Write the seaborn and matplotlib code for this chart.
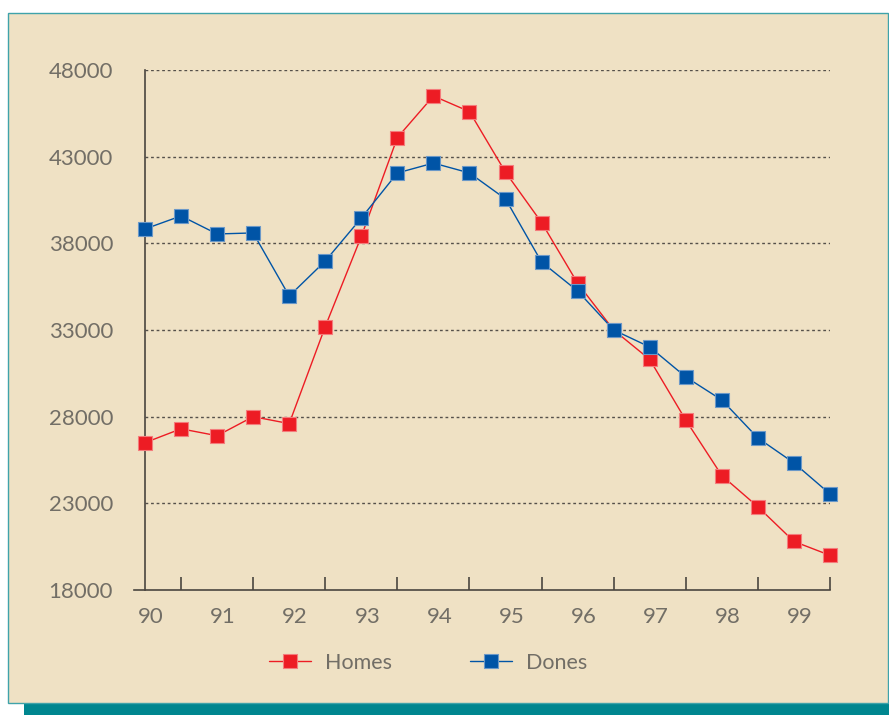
import matplotlib
matplotlib.use("Agg")
import matplotlib.pyplot as plt
from matplotlib.patches import Rectangle
from matplotlib.lines import Line2D
from matplotlib.ticker import FixedLocator
from matplotlib.transforms import ScaledTranslation
import seaborn as sns
import pandas as pd

# ---- data ----
years = [90, 90.5, 91, 91.5, 92, 92.5, 93, 93.5, 94, 94.5,
         95, 95.5, 96, 96.5, 97, 97.5, 98, 98.5, 99, 99.5]
homes = [26500, 27300, 26900, 28000, 27600, 33200, 38400, 44100, 46500, 45600,
         42100, 39200, 35700, 33000, 31300, 27800, 24600, 22800, 20800, 20000]
dones = [38830, 39580, 38540, 38600, 34960, 36980, 39460, 42060, 42630, 42060,
         40560, 36920, 35250, 33000, 32020, 30290, 28960, 26770, 25330, 23540]
series_names = ["Homes", "Dones"]
x_tick_labels = ["90", "91", "92", "93", "94", "95", "96", "97", "98", "99"]
y_ticks = [18000, 23000, 28000, 33000, 38000, 43000, 48000]

df = pd.DataFrame({
    "year": years * 2,
    "value": homes + dones,
    "series": [series_names[0]] * len(years) + [series_names[1]] * len(years),
})

RED = "#ED1C24"
BLUE = "#0054A6"
RED_EDGE = "#F47C7C"
BLUE_EDGE = "#6A98C8"
TXT = "#726E66"
AX = "#4A453F"
BG = "#EFE1C4"
TEAL = "#00868F"

sns.set_theme(style="white")
plt.rcParams["font.family"] = ["Lato", "DejaVu Sans"]

W, H = 889, 715
fig = plt.figure(figsize=(W / 100, H / 100), dpi=100)
fig.patch.set_facecolor("white")

# shadow + panel
fig.patches.append(Rectangle((24 / W, 0), 1 - 24 / W, 14 / H, transform=fig.transFigure,
                             facecolor=TEAL, edgecolor="none", zorder=0))
fig.patches.append(Rectangle((8 / W, 1 - 703 / H), (888 - 8) / W, (703 - 13) / H,
                             transform=fig.transFigure, facecolor=BG,
                             edgecolor="#3FA3AA", linewidth=1.0, zorder=1))

ax = fig.add_axes([145 / W, 1 - 590 / H, (830 - 145) / W, (590 - 70) / H])
ax.set_facecolor("none")
ax.set_zorder(2)

sns.lineplot(data=df, x="year", y="value", hue="series", style="series",
             markers={"Homes": "s", "Dones": "s"}, dashes=False,
             palette={"Homes": RED, "Dones": BLUE}, hue_order=series_names,
             markersize=10, linewidth=1.0, ax=ax, legend=False)

edge_map = {RED: RED_EDGE, BLUE: BLUE_EDGE}
for ln in ax.lines:
    c = matplotlib.colors.to_hex(ln.get_color()).upper()
    ln.set_markeredgecolor(edge_map.get(c, c))
    ln.set_markeredgewidth(0.8)
    ln.set_clip_on(False)
    ln.set_zorder(5)

ax.set_xlim(90, 99.5)
ax.set_ylim(18000, 48000)
ax.set_xlabel("")
ax.set_ylabel("")

# grid
for yv in y_ticks[1:]:
    ax.axhline(yv, color="#55504A", linewidth=1.0, linestyle=(0, (2, 2)), zorder=1)

# spines
for s in ["top", "right"]:
    ax.spines[s].set_visible(False)
ax.spines["left"].set_color(AX)
ax.spines["left"].set_linewidth(1.2)
ax.spines["bottom"].set_color(AX)
ax.spines["bottom"].set_linewidth(1.2)
ax.spines["bottom"].set_bounds(90 - 11 / 72.1, 99.5)

ax.yaxis.set_major_locator(FixedLocator(y_ticks))
ax.set_yticklabels([str(v) for v in y_ticks])
ax.tick_params(axis="y", direction="out", length=8, width=1.2, color=AX,
               pad=15, labelsize=16, labelcolor=TXT)

ax.xaxis.set_major_locator(FixedLocator(list(range(90, 100))))
ax.set_xticklabels(x_tick_labels)
ax.xaxis.set_minor_locator(FixedLocator([v + 0.5 for v in range(90, 100)]))
ax.tick_params(axis="x", which="major", direction="in", length=9.5, width=1.2,
               color=AX, pad=12, labelsize=16, labelcolor=TXT)
ax.tick_params(axis="x", which="minor", direction="in", length=9.5, width=1.2,
               color=AX, bottom=True)
shift = ScaledTranslation(6 / 100, 0, fig.dpi_scale_trans)
for lab in ax.get_xticklabels():
    lab.set_transform(lab.get_transform() + shift)

# legend
handles = [
    Line2D([], [], color=RED, marker="s", markersize=10, markeredgecolor=RED_EDGE,
           markeredgewidth=0.8, linewidth=1.0),
    Line2D([], [], color=BLUE, marker="s", markersize=10, markeredgecolor=BLUE_EDGE,
           markeredgewidth=0.8, linewidth=1.0),
]
leg = fig.legend(handles, series_names, loc="center", ncol=2,
                 bbox_to_anchor=(428 / W, 1 - 663 / H), bbox_transform=fig.transFigure,
                 frameon=False, fontsize=15.5, handlelength=1.95, handletextpad=0.65,
                 columnspacing=3.6, labelcolor=TXT)

fig.savefig("out.png", dpi=100)
